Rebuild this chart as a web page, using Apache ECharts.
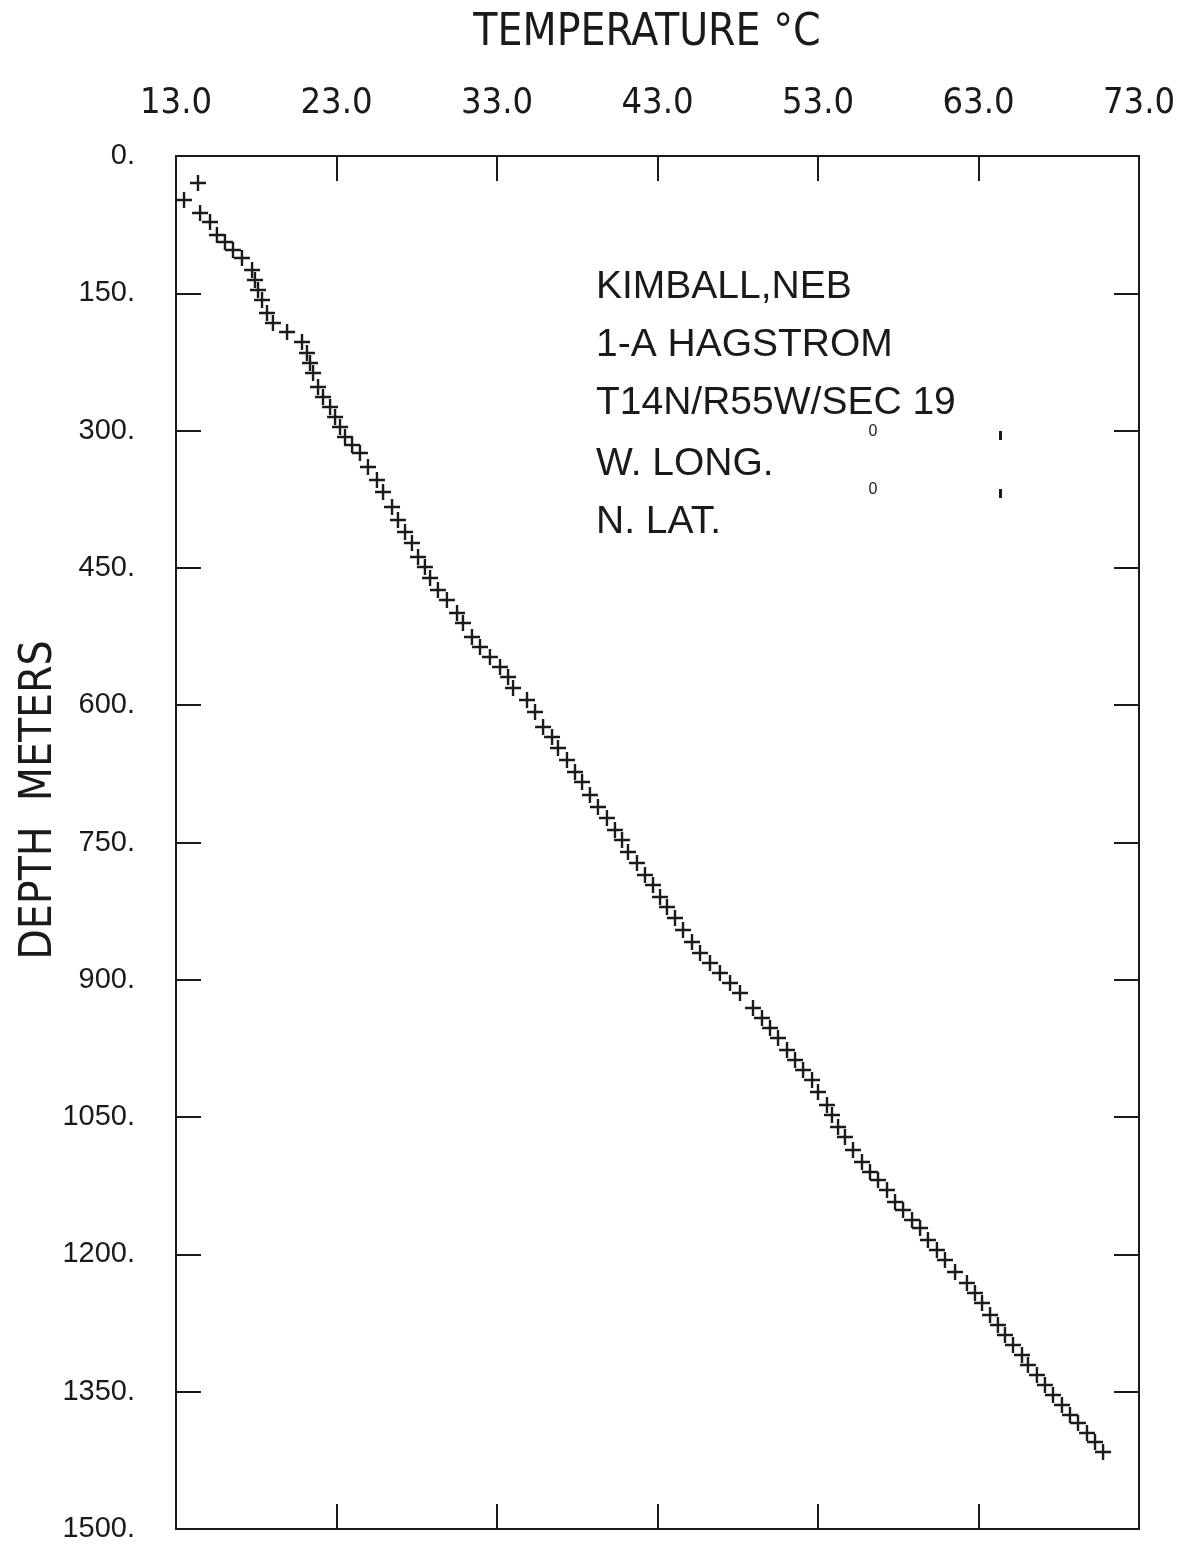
<!DOCTYPE html>
<html><head><meta charset="utf-8">
<script src="https://cdn.jsdelivr.net/npm/echarts@6/dist/echarts.min.js"></script>
<style>html,body{margin:0;padding:0;background:#fff}#c{width:1181px;height:1549px}</style>
</head><body><div id="c"></div>
<script>
// ---- data ----
const xTickLabels = ['13.0','23.0','33.0','43.0','53.0','63.0','73.0'];
const tempMin = 13, tempMax = 73;
const depthMin = 0, depthMax = 1500, depthStep = 150;
const titleText = 'TEMPERATURE °C';
const yAxisTitle = 'DEPTH  METERS';
const annotationLines = ['KIMBALL,NEB','1-A HAGSTROM','T14N/R55W/SEC 19','W. LONG.','N. LAT.'];

const temperature = [14.37,13.50,14.50,15.12,15.55,16.05,16.55,17.11,17.74,17.92,
 18.11,18.36,18.67,19.04,19.92,20.85,21.16,21.35,21.54,21.85,
 22.16,22.60,22.91,23.22,23.53,23.97,24.46,24.96,25.52,25.90,
 26.46,26.83,27.27,27.70,28.08,28.51,28.83,29.32,29.88,30.51,
 30.88,31.44,31.94,32.56,33.19,33.69,34.00,34.87,35.37,35.87,
 36.43,36.80,37.36,37.86,38.30,38.79,39.29,39.85,40.35,40.79,
 41.16,41.72,42.22,42.72,43.16,43.59,44.09,44.59,45.15,45.65,
 46.27,46.89,47.52,48.14,48.95,49.51,50.01,50.51,51.07,51.57,
 52.07,52.63,53.00,53.56,53.87,54.25,54.68,55.18,55.74,56.24,
 56.74,57.30,57.80,58.30,58.86,59.36,59.85,60.41,60.91,61.54,
 62.28,62.78,63.22,63.72,64.21,64.65,65.15,65.71,66.08,66.64,
 67.14,67.64,68.20,68.70,69.20,69.76,70.26,70.76];

const depth = [29.5,48.1,62.3,72.1,86.3,94.0,102.7,111.4,124.5,135.5,
 146.4,157.3,171.5,182.4,192.3,203.2,215.2,226.1,237.1,252.4,
 263.3,274.2,285.1,296.1,307.0,315.7,324.5,339.8,354.0,367.1,
 383.5,397.7,410.8,422.8,438.1,449.0,461.0,474.1,485.1,499.3,
 510.2,525.5,536.4,547.3,558.3,569.2,581.2,594.3,607.4,623.8,
 634.7,646.8,659.9,673.0,683.9,698.1,711.2,723.2,736.3,747.3,
 760.4,772.4,785.5,796.4,809.5,820.5,832.5,845.6,858.7,870.7,
 881.6,892.6,903.5,914.4,930.8,941.7,952.7,963.6,976.7,987.6,
 998.5,1009.5,1022.6,1036.8,1047.7,1060.8,1071.7,1085.9,1099.1,1110.0,
 1118.7,1129.6,1142.8,1151.5,1162.4,1171.2,1184.3,1195.2,1206.1,1219.2,
 1231.2,1242.2,1253.1,1266.2,1277.1,1288.1,1299.0,1309.9,1320.8,1331.8,
 1342.7,1353.6,1364.5,1375.5,1384.2,1395.1,1404.9,1415.9];

// ---- chart ----
const ink = '#1a1a1a';
const condensed = '"DejaVu Sans Condensed", "Liberation Sans", sans-serif';
const lineStyle = {color: ink, width: 2};
const chart = echarts.init(document.getElementById('c'), null, {renderer: 'canvas'});
const pts = temperature.map((t, i) => [t, depth[i]]);

const annoStartY = 287, annoStep = 58;
const graphics = [
  {type: 'text', position: [647, 34], style: {text: titleText, fontFamily: condensed, fontSize: 44, fill: ink, textAlign: 'center', textVerticalAlign: 'middle'}},
  {type: 'text', position: [40, 800], rotation: Math.PI / 2, style: {text: yAxisTitle, fontFamily: condensed, fontSize: 44, fill: ink, textAlign: 'center', textVerticalAlign: 'middle'}}
];
annotationLines.forEach((s, i) => {
  graphics.push({type: 'text', position: [596, annoStartY + i * annoStep + (i >= 3 ? 3 : 0)], style: {text: s, fontFamily: 'Liberation Sans', fontSize: 39, fill: ink, textAlign: 'left', textVerticalAlign: 'middle'}});
});
[432, 490].forEach(y => {
  graphics.push({type: 'text', position: [873, y], style: {text: '0', fontFamily: 'Liberation Sans', fontSize: 16, fill: ink, textAlign: 'center', textVerticalAlign: 'middle'}});
  graphics.push({type: 'rect', shape: {x: 999, y: y - 1, width: 3, height: 9}, style: {fill: ink}});
});

const hiddenPart = {show: false};
const borderLine = {show: true, onZero: false, lineStyle: lineStyle};
const innerTick = {show: true, inside: true, length: 25, lineStyle: lineStyle};
chart.setOption({
  animation: false,
  backgroundColor: '#fff',
  grid: {left: 176, right: 42, top: 156, height: 1373, containLabel: false},
  xAxis: [
    {type: 'category', data: xTickLabels, position: 'top', boundaryGap: false,
     axisLine: borderLine, axisTick: innerTick,
     axisLabel: {show: true, margin: 34, fontFamily: condensed, fontSize: 36, color: ink},
     splitLine: hiddenPart},
    {type: 'category', data: xTickLabels, position: 'bottom', boundaryGap: false,
     axisLine: borderLine, axisTick: innerTick,
     axisLabel: hiddenPart, splitLine: hiddenPart},
    {type: 'value', min: tempMin, max: tempMax, show: false, position: 'bottom',
     axisLine: {show: false, onZero: false}, axisTick: hiddenPart, axisLabel: hiddenPart, splitLine: hiddenPart}
  ],
  yAxis: [
    {type: 'value', min: depthMin, max: depthMax, interval: depthStep, inverse: true, position: 'left',
     axisLine: borderLine, axisTick: innerTick,
     axisLabel: {show: true, margin: 41, fontFamily: 'Liberation Sans', fontSize: 29, color: ink, formatter: v => v + '.'},
     splitLine: hiddenPart},
    {type: 'value', min: depthMin, max: depthMax, interval: depthStep, inverse: true, position: 'right',
     axisLine: borderLine, axisTick: innerTick,
     axisLabel: hiddenPart, splitLine: hiddenPart}
  ],
  series: [{
    type: 'scatter', xAxisIndex: 2, yAxisIndex: 0, data: pts,
    symbol: 'path://M0,6.8H16V9.2H0ZM6.8,0H9.2V16H6.8Z', symbolSize: 16,
    itemStyle: {color: ink, opacity: 1}, silent: true
  }],
  graphic: graphics
});
</script></body></html>
